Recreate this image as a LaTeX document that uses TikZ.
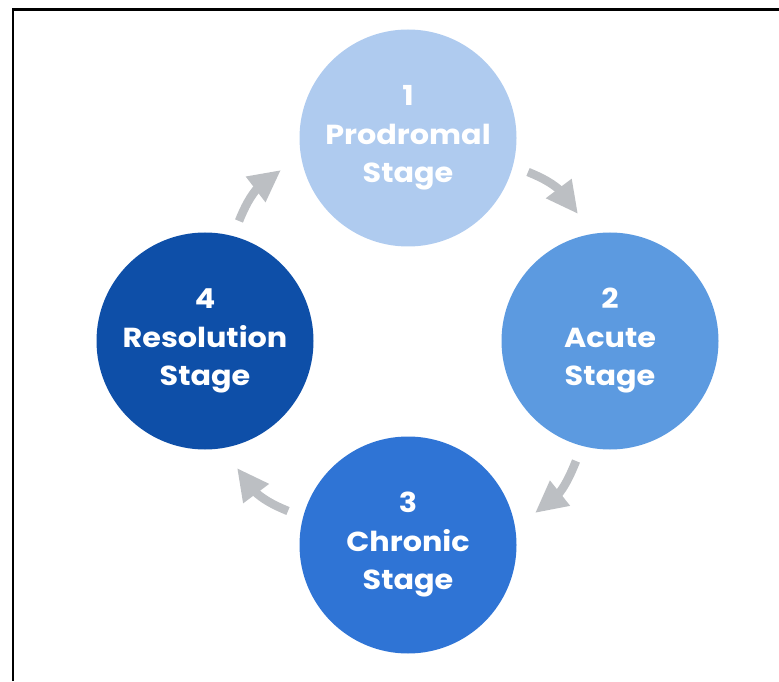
\documentclass[tikz,border=0pt]{standalone}
\usepackage{xcolor}
\usepackage{fontspec}
\setmainfont{Poppins}
\newfontfamily\stagefont{Poppins}[FakeStretch=1.1]
\usetikzlibrary{arrows.meta,bending}

\definecolor{stageA}{HTML}{AFCBEF}
\definecolor{stageB}{HTML}{5C9AE0}
\definecolor{stageC}{HTML}{2F74D5}
\definecolor{stageD}{HTML}{0E4FA8}
\definecolor{flowgrey}{HTML}{BCBFC3}

\tikzset{
    stage/.style={circle, minimum size=217pt, inner sep=0pt, text=white,
        font=\stagefont\bfseries\fontsize{27.5}{38.5}\selectfont, align=center},
    flow/.style={draw=flowgrey, line width=8.5pt,
        -{Triangle[length=32pt, width=30pt, flex]}}
}

\begin{document}
\begin{tikzpicture}[x=1pt, y=1pt]
        \useasboundingbox (0,0) rectangle (779,681);
        % frame
        \draw[line width=2.5pt] (13,0) -- (13,671.5) -- (779,671.5);
        % stages
        \node[stage, fill=stageA] (prodromal) at (408,543) {1\\Prodromal\\Stage};
        \node[stage, fill=stageB] (acute) at (610,340) {2\\Acute\\Stage};
        \node[stage, fill=stageC] (chronic) at (408,136) {3\\Chronic\\Stage};
        \node[stage, fill=stageD] (resolution) at (205,340) {4\\Resolution\\Stage};
        % cycle
        \draw[flow] ([shift={(120,-34)}]prodromal.center) to[out=-22, in=118]
            ([shift={(-32,127)}]acute.center);
        \draw[flow] ([shift={(-34,-120)}]acute.center) to[out=-112, in=28]
            ([shift={(127,32)}]chronic.center);
        \draw[flow] ([shift={(-120,34)}]chronic.center) to[out=158, in=-62]
            ([shift={(32,-127)}]resolution.center);
        \draw[flow] ([shift={(34,120)}]resolution.center) to[out=68, in=-152]
            ([shift={(-127,-32)}]prodromal.center);
    \end{tikzpicture}
\end{document}
